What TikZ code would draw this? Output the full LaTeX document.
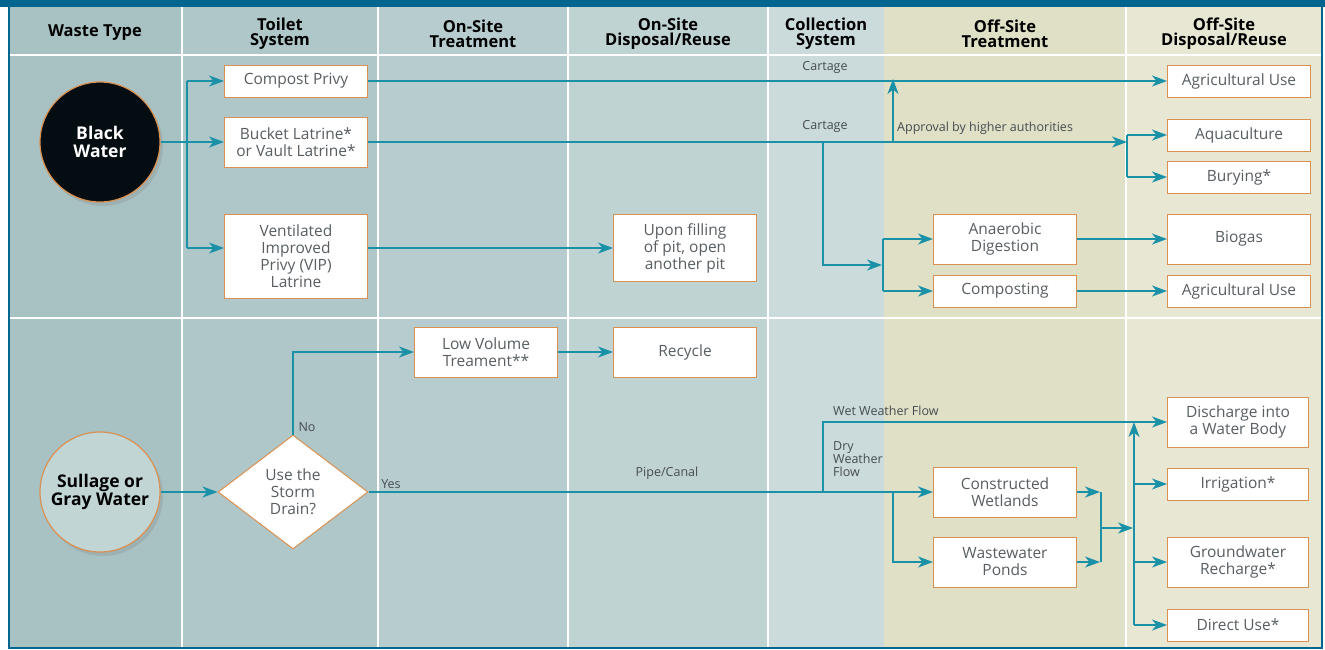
\documentclass[tikz,border=0pt]{standalone}
\usepackage{fontspec}
\setmainfont{Open Sans}
\usetikzlibrary{positioning,arrows.meta,shapes.geometric,shadows}
\definecolor{flowteal}{HTML}{1A91A7}
\definecolor{edgeorange}{HTML}{D99050}
\definecolor{barblue}{HTML}{00658F}
\definecolor{txtgray}{HTML}{585E62}
\definecolor{lblgray}{HTML}{464C50}
\definecolor{colwaste}{HTML}{A8C2C4}
\definecolor{coltoilet}{HTML}{AFC7C9}
\definecolor{colontreat}{HTML}{B7CCCE}
\definecolor{colondisp}{HTML}{C0D3D3}
\definecolor{colcollect}{HTML}{CBDADB}
\definecolor{colofftreat}{HTML}{E0E0C6}
\definecolor{coloffdisp}{HTML}{E8E7D4}
\definecolor{grayfill}{HTML}{C2D5D5}
\definecolor{blackfill}{HTML}{040D12}

\begin{document}
\begin{tikzpicture}[x=1pt,y=-1pt,node distance=50pt,on grid,
  >={Stealth[length=15pt,width=11pt,inset=4.5pt]},
  flow/.style={flowteal,line width=1.4pt},
  box/.style={draw=edgeorange,fill=white,line width=1pt,minimum width=143pt,
    minimum height=32pt,align=center,text=txtgray,inner sep=1pt,
    font=\fontsize{15.5}{17}\selectfont},
  tallbox/.style={box,minimum height=50pt},
  hdr/.style={align=center,font=\bfseries\fontsize{16.5}{15}\selectfont},
  lbl/.style={text=lblgray,font=\fontsize{12.5}{13}\selectfont,inner sep=0pt,align=left},
  waste/.style={circle,draw=edgeorange,line width=1.2pt,minimum size=120pt,
    align=center,font=\bfseries\fontsize{17.5}{18.5}\selectfont,
    drop shadow={opacity=0.25,shadow xshift=3pt,shadow yshift=-4pt}}]
\useasboundingbox (0,0) rectangle (1325,649);

% column bands and grid
\foreach \xa/\xb/\c in {9/182/colwaste,182/378/coltoilet,378/568/colontreat,
    568/768/colondisp,768/884/colcollect,884/1126/colofftreat,1126/1322/coloffdisp}
  \fill[\c] (\xa,7) rectangle (\xb,648);
\foreach \xa in {182,378,568,768,1126}
  \draw[white,line width=1.2pt] (\xa,7) -- (\xa,648);
\draw[white,line width=1.5pt] (9,55) -- (1322,55);
\draw[white,line width=2pt] (9,318) -- (1322,318);
\fill[barblue] (0,0) rectangle (1325,7);
\draw[barblue,line width=2pt] (9,7) -- (9,648) -- (1322,648) -- (1322,7);

% headings
\node[hdr] (h_waste)   at (95,33)   {Waste Type};
\node[hdr] (h_toilet)  at (280,34)  {Toilet\\System};
\node[hdr] (h_ontreat) at (473,34)  {On-Site\\Treatment};
\node[hdr] (h_ondisp)  at (668,34)  {On-Site\\Disposal/Reuse};
\node[hdr] (h_collect) at (826,34)  {Collection\\System};
\node[hdr] (h_offtreat) at (1005,34) {Off-Site\\Treatment};
\node[hdr] (h_offdisp) at (1224,34) {Off-Site\\Disposal/Reuse};

% black water
\node[waste,fill=blackfill,text=white] (blackw) at (100,142) {Black\\Water};
\node[tallbox] (bucket) at (296,142) {Bucket Latrine*\\or Vault Latrine*};
\node[box] (compost) [above=61pt of bucket] {Compost Privy};
\node[box,minimum height=84pt] (vip) [below=114pt of bucket] {Ventilated\\Improved\\Privy (VIP)\\Latrine};
\node[box,minimum height=67pt] (pitfill) at (685,248) {Upon filling\\of pit, open\\another pit};
\node[box] (agri_a) at (1239,81) {Agricultural Use};
\node[box] (aqua) [below=54pt of agri_a] {Aquaculture};
\node[box] (bury) [below=42pt of aqua] {Burying*};
\node[tallbox] (biogas) [below=62pt of bury] {Biogas};
\node[box] (agri_b) [below=52pt of biogas] {Agricultural Use};
\node[tallbox] (anaer) [left=234pt of biogas] {Anaerobic\\Digestion};
\node[box] (compo) [left=234pt of agri_b] {Composting};

\coordinate (t_top) at (187,81);
\coordinate (t_bot) at (187,248);
\coordinate (b_split) at (1127,142);
\coordinate (appr) at (893,142);
\coordinate (cart) at (823,142);
\coordinate (d_split) at (883,265);

\draw[flow] (t_top) -- (t_bot);
\path[->,flow]
  (blackw) edge (bucket)
  (t_top) edge (compost)
  (t_bot) edge (t_bot -| vip.west)
  (compost) edge (agri_a)
  (bucket) edge (b_split)
  (appr) edge ([yshift=2pt]appr |- compost)
  (pitfill.west -| vip.east) edge (pitfill)
  (anaer) edge (biogas)
  (compo) edge (agri_b);
\draw[flow] (b_split |- aqua) -- (b_split |- bury);
\draw[->,flow] (b_split |- aqua) -- (aqua);
\draw[->,flow] (b_split |- bury) -- (bury);
\draw[->,flow] (cart) |- ([xshift=-1pt]d_split);
\draw[flow] (d_split |- anaer) -- (d_split |- compo);
\draw[->,flow] (d_split |- anaer) -- (anaer);
\draw[->,flow] (d_split |- compo) -- (compo);

\node[lbl] (l_cart_a) at (825,67) {Cartage};
\node[lbl] (l_cart_b) at (825,126) {Cartage};
\node[lbl,anchor=west] (l_appr) at (897,128) {Approval by higher authorities};

% sullage or gray water
\node[waste,fill=grayfill,text=black] (sull) at (100,492) {Sullage or\\Gray Water};
\node[diamond,draw=edgeorange,fill=white,line width=1pt,aspect=1.3,inner sep=0pt,
  minimum width=150pt,minimum height=114pt,align=center,text=txtgray,
  font=\fontsize{15.5}{17}\selectfont] (storm) at (293,492) {Use the\\Storm\\Drain?};
\node[tallbox] (lowvol) at (486,352) {Low Volume\\Treament**};
\node[tallbox] (recycle) [right=199pt of lowvol] {Recycle};
\node[tallbox] (wetl) at (1005,492) {Constructed\\Wetlands};
\node[tallbox] (ponds) [below=70pt of wetl] {Wastewater\\Ponds};
\node[tallbox,minimum width=141pt] (disch) at (1238,422) {Discharge into\\a Water Body};
\node[box,minimum width=141pt] (irrig) [below=62pt of disch] {Irrigation*};
\node[tallbox,minimum width=141pt] (grw) [below=78pt of irrig] {Groundwater\\Recharge*};
\node[box,minimum width=141pt] (direct) [below=63pt of grw] {Direct Use*};

\coordinate (wet) at (823,492);
\coordinate (p_split) at (893,492);
\coordinate (m_a) at (1101,492);
\coordinate (m_b) at (1101,562);
\coordinate (m_mid) at (1101,528);
\coordinate (v_bot) at (1134,625);
\coordinate (v_top) at (1134,422);

\path[->,flow]
  (sull) edge (storm)
  (lowvol) edge (recycle)
  (wetl) edge ([xshift=-1pt]m_a)
  (ponds) edge ([xshift=-1pt]m_b)
  (m_mid) edge ([xshift=-1pt]v_bot |- m_mid)
  (v_bot) edge (v_top)
  (v_bot |- irrig) edge (irrig)
  (v_bot |- grw) edge (grw)
  (v_bot) edge (direct);
\draw[->,flow] (storm.north) |- (lowvol);
\draw[->,flowteal,line width=2.4pt] (storm.east) -- (wetl);
\draw[->,flow] (wet) |- (disch);
\draw[->,flow] (p_split) |- (ponds);
\draw[flow] (m_a) -- (m_b);

\node[lbl] (l_no) at (307,427) {No};
\node[lbl] (l_yes) at (391,484) {Yes};
\node[lbl] (l_pipe) at (667,473) {Pipe/Canal};
\node[lbl,anchor=west] (l_wet) at (833,411) {Wet Weather Flow};
\node[lbl,anchor=north west] (l_dry) at (833,441) {Dry\\Weather\\Flow};
\end{tikzpicture}
\end{document}
